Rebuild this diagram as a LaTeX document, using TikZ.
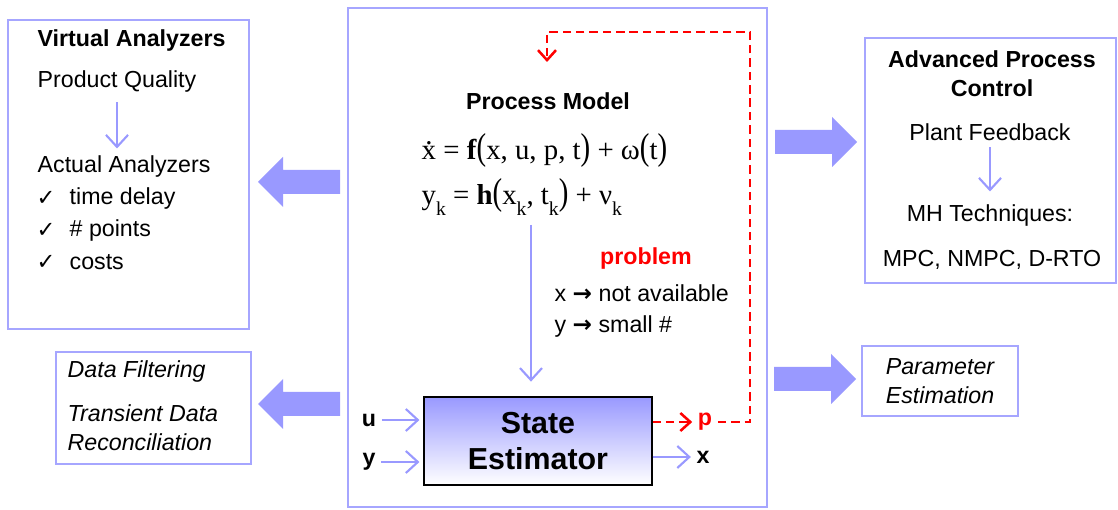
\documentclass[tikz,border=0pt]{standalone}
\usepackage{fontspec}
\setmainfont{Liberation Sans}
\newfontfamily\eqfont{Liberation Serif}
\newfontfamily\symfont{DejaVu Sans}
\usepackage{tikz}
\usetikzlibrary{positioning,arrows.meta,calc}
\definecolor{lav}{HTML}{9999FF}
\definecolor{lavline}{HTML}{A6A6FF}
\definecolor{probred}{HTML}{FF0000}

\newcommand\bodysize{\fontsize{16.5}{20.5}\selectfont}
\newcommand\xdot{\makebox[0pt][l]{\hspace{0.13em}\raisebox{0.5em}{.}}x}
\newcommand\subk{\raisebox{-0.35em}{\fontsize{14}{14}\selectfont k}}
\newcommand\bigp[1]{\scalebox{1}[1.3]{#1}}

\tikzset{
  txt/.style={font=\bodysize, inner sep=1pt},
  btxt/.style={font=\bodysize\bfseries, inner sep=1pt},
  itxt/.style={font=\bodysize\itshape, inner sep=1pt},
  eqn/.style={font=\eqfont\fontsize{20.5}{24}\selectfont, inner sep=1pt},
  panel/.style={draw=lavline, line width=1.7pt, inner sep=0pt},
  thinarr/.style={draw=lav, line width=1.5pt, -{Straight Barb[length=3mm,width=5.5mm]}},
  redarr/.style={draw=probred, line width=1.8pt, dash pattern=on 6pt off 3.5pt, -{Straight Barb[length=2.5mm,width=4.5mm]}},
  blockarrow/.pic={\fill[lav] (-41,-12) -- (16,-12) -- (16,-25) -- (41,0) -- (16,25) -- (16,12) -- (-41,12) -- cycle;}
}

\begin{document}
\begin{tikzpicture}[x=0.025cm, y=-0.025cm]
    \useasboundingbox (0,0) rectangle (1118,510);

    % panels
    \node[panel, minimum width=6.025cm, minimum height=7.725cm] (vabox) at (128.5,174.5) {};
    \node[panel, minimum width=10.475cm, minimum height=12.475cm] (pmbox) at (557.5,257.5) {};
    \node[panel, minimum width=6.275cm, minimum height=6.125cm] (apcbox) at (990.5,160.5) {};
    \node[panel, minimum width=3.9cm, minimum height=1.75cm] (pebox) at (940,381) {};
    \node[panel, minimum width=4.875cm, minimum height=2.8cm] (dfbox) at (153.5,408) {};

    % virtual analyzers
    \node[btxt, anchor=west] (vat) at (36,41) {Virtual Analyzers};
    \node[txt, anchor=west] (pq) at (36,82) {Product Quality};
    \node[txt, anchor=west] (aa) at (36,167) {Actual Analyzers};
    \draw[thinarr, shorten <=2mm, shorten >=1.5mm] (pq.south) -- (pq.south |- aa.north);
    \foreach \lbl [count=\i] in {time delay,\# points,costs}{
      \node[txt, anchor=west] (chk\i) at (35,{167+31.7*\i}) {\symfont\fontsize{16}{16}\selectfont ✓};
      \node[txt, anchor=west] (itm\i) at (68,{167+31.7*\i}) {\lbl};
    }

    % data filtering
    \node[itxt, anchor=west] (dfa) at (66,372) {Data Filtering};
    \node[itxt, anchor=west, align=left] (dfb) at (66,428) {Transient Data\\Reconciliation};

    % process model
    \node[btxt] (pmt) at (548,101) {Process Model};
    \node[eqn, anchor=west] (eqa) at (420,150) {\xdot{} = \textbf{f}\bigp{(}x, u, p, t\bigp{)} + ω\bigp{(}t\bigp{)}};
    \node[eqn, anchor=west] (eqb) at (420,197) {y\subk{} = \textbf{h}\bigp{(}x\subk, t\subk\bigp{)} + ν\subk};
    \coordinate (pmfoot) at (531,225);

    \node[btxt, text=probred] (prob) at (646,259) {problem};
    \node[txt, anchor=west] (pr1) at (553,293) {x {\symfont\bfseries →} not available};
    \node[txt, anchor=west] (pr2) at (553,327) {y {\symfont\bfseries →} small \#};

    % state estimator
    \node[draw=black, line width=0.8pt, top color=lav, bottom color=white, minimum width=5.7cm, minimum height=2.2cm,
          align=center, font=\fontsize{21.6}{25.5}\selectfont\bfseries] (se) at (538,441) {State\\Estimator};
    \draw[thinarr, shorten >=3.7mm] (pmfoot) -- (pmfoot |- se.north);

    \node[btxt] (uin) at (369,420) {u};
    \node[btxt] (yin) at (369,462) {y};
    \draw[thinarr, shorten <=1mm, shorten >=1mm] (uin.east) -- (uin.east -| se.west);
    \draw[thinarr, shorten <=1mm, shorten >=1mm] (yin.east) -- (yin.east -| se.west);

    \node[btxt] (xout) at (703,457) {x};
    \node[btxt, text=probred] (pout) at (705,422) {p};
    \draw[thinarr, shorten >=1mm] (se.east |- xout.west) -- (xout.west);
    \draw[redarr, shorten >=1mm] (se.east |- pout.west) -- (pout.west);
    \coordinate (fbtip) at (547,62);
    \draw[redarr, shorten <=1mm] (pout.east) -| (750,32) -| (fbtip);

    % advanced process control
    \node[btxt, align=center] (apct) at (992,74) {Advanced Process\\Control};
    \node[txt] (pf) at (990,132) {Plant Feedback};
    \node[txt] (mh) at (990,216) {MH Techniques:};
    \node[txt] (mpc) at (992,260) {MPC, NMPC, D-RTO};
    \draw[thinarr, shorten <=1.3mm, shorten >=3mm] (pf.south) -- (mh.north);

    % parameter estimation
    \node[itxt, align=center] (pe) at (940,381) {Parameter\\Estimation};

    % block arrows
    \pic[rotate=180] (bal) at (299,182) {blockarrow};
    \pic[rotate=180] (bbl) at (299,404) {blockarrow};
    \pic (bar) at (816,142) {blockarrow};
    \pic (bbr) at (815,379) {blockarrow};
  \end{tikzpicture}
\end{document}
